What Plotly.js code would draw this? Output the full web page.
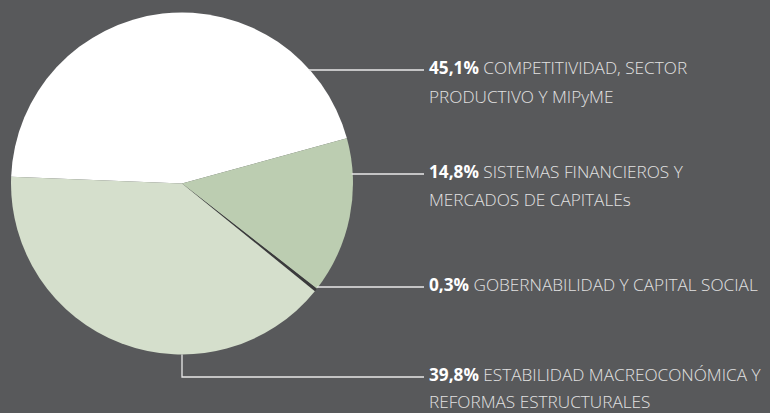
<!DOCTYPE html>
<html>
<head>
<meta charset="utf-8">
<script src="https://cdn.plot.ly/plotly-3.0.1.min.js"></script>
<style>html,body{margin:0;padding:0;background:#58595b;}#chart{width:770px;height:413px;}</style>
</head>
<body>
<div id="chart"></div>
<script>
// ---- data ----
const categories = [
  'COMPETITIVIDAD, SECTOR PRODUCTIVO Y MIPyME',
  'SISTEMAS FINANCIEROS Y MERCADOS DE CAPITALEs',
  'GOBERNABILIDAD Y CAPITAL SOCIAL',
  'ESTABILIDAD MACREOCONÓMICA Y REFORMAS ESTRUCTURALES'
];
const values = [45.1, 14.8, 0.3, 39.8];
const labelLines = [
  ['COMPETITIVIDAD, SECTOR', 'PRODUCTIVO Y MIPyME'],
  ['SISTEMAS FINANCIEROS Y', 'MERCADOS DE CAPITALEs'],
  ['GOBERNABILIDAD Y CAPITAL SOCIAL'],
  ['ESTABILIDAD MACREOCONÓMICA Y', 'REFORMAS ESTRUCTURALES']
];
const colors = ['#ffffff', '#bccdb1', '#3a3a3b', '#d5dfcc'];

// ---- layout helpers (pixel geometry) ----
const W = 770, H = 413;
const cx = 182, cy = 183.5, R = 171;
const px = x => x / W;
const py = y => 1 - y / H;
const textX = 427, lineEndX = 424;
const lineY = [70, 174, 287, 377];    // leader line heights
const textShift = -3;                 // text centre relative to line
const lineGaps = [29, 29, 29, 27];

const fmt = v => v.toFixed(1).replace('.', ',') + '%';

const annotations = [];
const shapes = [];
labelLines.forEach((lines, i) => {
  lines.forEach((t, j) => {
    const txt = (j === 0 ? '<b style="color:#ffffff">' + fmt(values[i]) + '</b> ' : '') + t;
    annotations.push({
      xref: 'paper', yref: 'paper', x: px(textX), y: py(lineY[i] + textShift + j * lineGaps[i]),
      xanchor: 'left', yanchor: 'middle', showarrow: false, align: 'left',
      text: txt, font: {family: 'Open Sans, sans-serif', size: 17.2, weight: 300, color: '#e2e2e2'}
    });
  });
  const y = lineY[i];
  const lc = {color: '#e8e8e8', width: 1.3};
  if (i < 3) {
    const x0 = cx + Math.sqrt(R * R - (y - cy) * (y - cy));
    shapes.push({type: 'line', xref: 'paper', yref: 'paper', x0: px(x0 - 1), y0: py(y), x1: px(lineEndX), y1: py(y), line: lc});
  } else {
    shapes.push({type: 'path', xref: 'paper', yref: 'paper',
      path: 'M ' + px(cx) + ' ' + py(cy + R) + ' L ' + px(cx) + ' ' + py(y) + ' L ' + px(lineEndX) + ' ' + py(y),
      line: lc});
  }
});

const trace = {
  type: 'pie',
  labels: categories,
  values: values,
  sort: false,
  direction: 'clockwise',
  rotation: -87.7,
  marker: {colors: colors, line: {width: 0}},
  textinfo: 'none',
  hoverinfo: 'skip',
  domain: {x: [px(cx - R), px(cx + R)], y: [py(cy + R), py(cy - R)]}
};

const layout = {
  width: W, height: H,
  margin: {l: 0, r: 0, t: 0, b: 0},
  paper_bgcolor: '#58595b',
  plot_bgcolor: '#58595b',
  showlegend: false,
  annotations: annotations,
  shapes: shapes
};

Plotly.newPlot('chart', [trace], layout, {displayModeBar: false, staticPlot: true});
</script>
</body>
</html>
